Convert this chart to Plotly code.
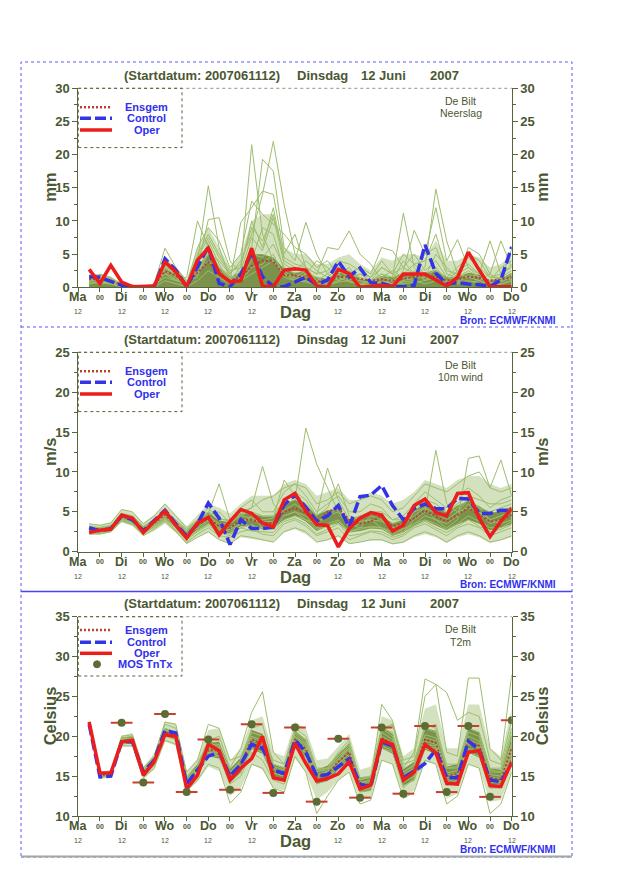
import plotly.graph_objects as go

# EPS pluim De Bilt, start 2007061112 -- 6-hourly steps after "Ma 12"
steps = list(range(6, 241, 6))
tick_hours = list(range(0, 241, 12))
day_names = ['Ma', 'Di', 'Wo', 'Do', 'Vr', 'Za', 'Zo', 'Ma', 'Di', 'Wo', 'Do']

# ---- neerslag (mm) ----
prec_oper = [2.7, 0.6, 3.3, 0.8, 0.1, 0.1, 0.2, 3.8, 2.3, 0.1, 4.1, 5.9, 2.1, 0.8, 1.0, 5.9, 0.2, 0.1, 2.6, 2.8,
             2.6, 0.2, 0.0, 2.7, 2.1, 0.0, 0.2, 0.3, 0.1, 2.0, 2.0, 2.0, 1.1, 0.2, 1.5, 5.3, 2.6, 0.1, 0.1, 0.1]
prec_ctrl = [1.6, 1.5, 0.9, 0.3, 0.0, 0.0, 0.1, 4.3, 2.6, 0.1, 3.1, 6.1, 0.6, 0.1, 2.0, 5.2, 1.6, 0.1, 0.1, 0.8,
             1.5, 0.4, 1.1, 3.9, 1.6, 2.9, 0.7, 0.6, 0.1, 0.1, 0.3, 6.4, 2.1, 0.5, 0.7, 0.5, 0.4, 0.1, 1.1, 6.1]
prec_mean = [1.2, 1.2, 1.0, 0.4, 0.1, 0.1, 0.3, 2.4, 1.8, 0.4, 2.2, 3.8, 2.0, 1.0, 1.5, 3.2, 4.0, 3.9, 1.8, 1.8,
             1.4, 0.8, 1.0, 1.6, 1.5, 1.2, 1.0, 1.2, 1.0, 1.3, 1.5, 1.8, 1.6, 1.0, 1.2, 1.6, 1.4, 1.0, 1.2, 1.5]
prec_core_hi = [1.4, 1.5, 1.1, 0.5, 0.2, 0.1, 0.3, 2.8, 2.0, 0.5, 3.0, 5.0, 3.0, 1.5, 2.4, 5.0, 5.0, 4.5, 2.8, 2.2,
                2.4, 1.5, 1.3, 2.2, 2.2, 1.3, 1.0, 1.7, 1.5, 2.1, 2.1, 2.2, 2.6, 1.5, 1.5, 2.2, 1.9, 1.0, 1.3, 2.2]
prec_spread_hi = [2.0, 2.0, 1.6, 0.7, 0.3, 0.2, 0.5, 4.5, 3.0, 1.2, 6.0, 9.0, 6.0, 3.0, 5.0, 10.0, 11.0, 11.0, 6.0, 5.0,
                  5.0, 3.5, 3.5, 4.5, 5.0, 3.5, 2.5, 4.5, 4.0, 5.0, 5.0, 4.5, 7.0, 4.0, 4.0, 5.0, 4.5, 3.0, 3.5, 5.0]
prec_members = [
    [1.5, 1.8, 1.2, 0.4, 0, 0, 0.2, 3.2, 2.0, 0.5, 4.0, 15.3, 6.0, 1.2, 3.0, 21.5, 8.0, 4.0, 2.0, 1.5,
     2.5, 1.0, 0.5, 2.0, 3.0, 1.0, 0.5, 1.5, 1.0, 2.0, 3.5, 2.0, 1.0, 0.5, 2.0, 3.0, 1.5, 0.5, 1.0, 2.0],
    [1.0, 1.2, 0.8, 0.2, 0.1, 0, 0.3, 2.5, 1.5, 0.3, 2.0, 5.0, 4.0, 2.0, 4.0, 8.0, 14.0, 22.0, 12.4, 5.0,
     3.0, 1.0, 2.0, 3.5, 2.0, 0.5, 1.0, 2.0, 1.5, 11.2, 3.0, 1.0, 2.0, 1.0, 0.5, 2.0, 1.0, 0.5, 0.8, 1.5],
    [2.3, 1.5, 1.0, 0.5, 0.2, 0.1, 0.5, 5.9, 3.0, 0.8, 3.0, 10.2, 10.5, 4.0, 2.0, 6.0, 19.3, 17.5, 6.0, 4.0,
     9.8, 5.0, 2.0, 1.0, 1.5, 2.0, 1.0, 3.0, 2.0, 1.0, 1.5, 3.0, 14.8, 7.0, 2.0, 1.5, 1.0, 2.0, 7.0, 3.0],
    [0.8, 2.0, 1.5, 0.3, 0, 0, 0.1, 2.0, 1.0, 1.5, 10.0, 6.0, 3.0, 1.0, 9.8, 12.0, 14.5, 14.0, 5.0, 8.0,
     3.0, 2.0, 6.0, 5.7, 8.5, 5.0, 3.5, 1.0, 0.5, 2.5, 8.6, 5.0, 12.0, 4.0, 7.2, 3.0, 2.0, 7.0, 2.0, 1.0],
    [1.2, 1.0, 0.5, 0.2, 0.1, 0, 0.2, 3.5, 2.5, 0.2, 5.0, 8.0, 5.0, 2.5, 3.0, 10.0, 6.0, 12.0, 4.0, 3.0,
     2.0, 4.0, 3.0, 1.0, 2.0, 3.0, 2.0, 6.0, 5.5, 3.0, 2.0, 5.0, 6.0, 2.0, 1.5, 6.0, 5.0, 2.0, 1.0, 5.8],
    [1.5, 1.3, 1.0, 0.6, 0.3, 0.1, 0.3, 1.5, 1.0, 0.6, 2.5, 4.0, 2.0, 1.5, 2.0, 5.0, 4.5, 6.5, 3.0, 2.0,
     1.5, 0.8, 1.0, 2.5, 1.5, 1.0, 0.8, 1.5, 2.5, 1.5, 1.0, 2.0, 2.5, 1.5, 1.0, 1.5, 2.0, 1.0, 1.5, 2.5],
    [0.8, 0.6, 0.5, 0.1, 0, 0, 0.1, 2.8, 3.0, 1.0, 1.5, 7.0, 3.5, 0.8, 1.5, 4.0, 9.0, 8.0, 2.5, 1.2,
     2.0, 1.5, 0.5, 1.0, 2.0, 0.5, 0.3, 1.0, 0.5, 1.0, 2.5, 1.0, 3.0, 1.0, 2.5, 3.5, 2.0, 0.8, 0.5, 1.0],
    [1.8, 1.6, 1.3, 0.2, 0.1, 0.1, 0.4, 4.5, 2.0, 0.3, 3.5, 6.5, 2.5, 1.0, 2.5, 7.5, 5.5, 10.5, 3.5, 2.5,
     4.0, 2.5, 1.5, 3.0, 2.5, 1.5, 1.0, 2.0, 1.0, 4.0, 2.0, 1.5, 5.0, 3.0, 1.5, 2.5, 1.5, 1.0, 3.0, 4.0],
    [0.5, 0.8, 0.6, 0.0, 0, 0, 0, 1.0, 0.5, 0.1, 1.0, 2.5, 1.5, 0.5, 1.0, 3.0, 3.5, 5.0, 1.5, 1.0,
     0.8, 0.4, 0.3, 0.8, 1.0, 0.3, 0.2, 0.5, 0.3, 0.8, 1.0, 0.5, 1.0, 0.5, 0.8, 1.0, 0.6, 0.3, 0.5, 1.0],
    [1.3, 1.5, 1.2, 0.4, 0.1, 0, 0.2, 3.0, 1.8, 0.4, 6.0, 9.0, 7.0, 3.0, 5.0, 13.0, 11.0, 9.5, 8.0, 6.0,
     5.0, 3.0, 4.0, 2.0, 1.0, 2.0, 1.5, 4.0, 2.0, 3.0, 5.0, 2.5, 4.0, 1.5, 3.0, 4.5, 3.0, 1.5, 2.0, 3.0],
    [1.0, 1.0, 0.9, 0.3, 0, 0, 0.2, 2.2, 1.2, 0.2, 2.0, 5.5, 3.0, 1.8, 1.0, 2.0, 3.0, 4.0, 2.0, 1.0,
     1.0, 0.5, 0.8, 1.5, 0.8, 0.5, 0.5, 0.8, 1.0, 0.5, 0.8, 1.0, 1.5, 0.8, 0.5, 0.8, 1.0, 0.5, 1.0, 1.5],
    [1.6, 1.9, 1.4, 0.5, 0.2, 0.1, 0.3, 4.0, 2.8, 0.5, 4.5, 7.5, 4.5, 2.2, 3.5, 9.0, 7.0, 11.0, 4.5, 3.5,
     3.0, 2.0, 2.5, 4.0, 3.5, 2.5, 1.5, 3.0, 2.0, 5.0, 3.5, 4.0, 8.0, 2.5, 2.0, 5.0, 4.0, 1.5, 1.5, 3.5],
]

# ---- 10m wind (m/s) ----
wind_oper = [2.4, 2.7, 2.8, 4.6, 4.2, 2.4, 3.8, 5.1, 3.3, 1.7, 3.6, 4.3, 2.1, 3.8, 5.3, 4.8, 3.6, 3.1, 6.5, 7.3,
             5.1, 3.4, 3.3, 0.6, 2.9, 4.2, 4.9, 4.6, 2.6, 3.3, 5.8, 6.6, 4.9, 4.5, 7.3, 7.4, 4.2, 1.9, 3.8, 5.4]
wind_ctrl = [3.0, 2.6, 2.9, 4.5, 4.0, 2.6, 3.9, 5.2, 3.5, 1.9, 3.5, 6.1, 4.2, 0.9, 4.0, 2.9, 2.9, 3.1, 5.9, 7.1,
             5.6, 3.8, 4.5, 5.8, 3.1, 6.9, 7.1, 8.3, 5.8, 4.0, 5.4, 6.0, 5.4, 5.4, 6.7, 6.6, 4.8, 4.8, 5.2, 5.2]
wind_mean = [2.8, 2.8, 3.0, 4.4, 4.0, 2.8, 3.6, 4.6, 3.4, 2.2, 3.3, 4.2, 3.2, 3.0, 4.0, 4.0, 3.6, 3.6, 5.0, 5.5,
             4.8, 3.6, 5.0, 5.5, 4.0, 3.5, 3.8, 4.5, 3.2, 3.6, 4.2, 5.2, 4.4, 3.8, 4.6, 5.5, 4.6, 3.8, 4.0, 4.6]
wind_core_lo = [2.5, 2.5, 2.7, 4.0, 3.6, 2.4, 3.2, 4.1, 3.0, 1.8, 2.7, 3.5, 2.5, 2.3, 3.2, 3.2, 2.8, 2.8, 4.0, 4.5,
                3.8, 2.6, 3.2, 3.6, 2.4, 2.6, 2.9, 2.8, 2.0, 2.4, 3.3, 3.9, 3.3, 2.7, 3.4, 4.0, 3.5, 2.7, 3.0, 3.5]
wind_core_hi = [3.1, 3.1, 3.3, 4.8, 4.4, 3.2, 4.0, 5.1, 3.8, 2.6, 3.9, 4.9, 3.9, 3.7, 4.8, 4.8, 4.4, 4.4, 6.0, 6.5,
                5.8, 4.6, 5.2, 5.4, 4.0, 4.4, 4.7, 4.4, 3.6, 4.0, 5.1, 6.1, 5.5, 4.9, 5.8, 6.4, 5.7, 4.9, 5.0, 5.7]
wind_spread_lo = [2.2, 2.2, 2.4, 3.7, 3.2, 2.0, 2.6, 3.5, 2.4, 1.0, 1.8, 2.4, 1.5, 1.0, 1.8, 1.6, 1.4, 1.2, 2.4, 2.8,
                  2.2, 1.2, 1.4, 1.8, 1.0, 1.2, 1.4, 1.4, 0.9, 1.1, 1.8, 2.2, 1.8, 1.1, 1.8, 2.2, 1.8, 1.1, 1.4, 1.8]
wind_spread_hi = [3.5, 3.4, 3.7, 5.3, 5.0, 3.6, 4.6, 6.0, 4.6, 3.2, 4.6, 6.0, 5.5, 4.8, 6.0, 7.0, 7.0, 7.0, 8.5, 9.0,
                  8.5, 7.0, 7.5, 8.0, 6.5, 6.5, 7.5, 7.0, 6.0, 6.5, 7.5, 9.0, 8.5, 8.0, 9.0, 9.5, 9.5, 8.5, 8.0, 8.5]
wind_members = [
    [2.5, 2.4, 2.8, 4.2, 3.8, 2.2, 3.2, 4.8, 3.0, 1.5, 2.8, 3.8, 2.5, 2.8, 3.5, 4.5, 3.0, 3.5, 6.0, 6.5,
     15.5, 11.0, 8.0, 5.0, 3.0, 3.5, 4.0, 3.0, 2.5, 3.0, 5.0, 5.5, 4.0, 3.5, 4.5, 6.0, 5.0, 3.5, 4.0, 5.0],
    [3.2, 3.0, 3.3, 4.8, 4.5, 3.2, 4.0, 5.3, 4.0, 2.8, 3.8, 4.8, 8.5, 4.0, 5.0, 5.5, 10.7, 6.0, 4.5, 5.0,
     4.0, 3.5, 4.5, 5.5, 3.5, 3.0, 4.5, 4.0, 3.0, 2.5, 4.0, 5.0, 12.7, 6.0, 5.0, 6.5, 5.5, 4.0, 3.5, 4.0],
    [2.4, 2.6, 2.7, 4.0, 3.6, 2.5, 3.4, 4.2, 3.2, 2.0, 3.0, 4.0, 3.0, 2.5, 3.5, 3.2, 3.0, 2.8, 4.5, 5.0,
     4.5, 3.0, 3.5, 4.0, 2.5, 2.8, 3.2, 3.0, 2.2, 2.8, 3.5, 4.5, 4.0, 3.0, 4.0, 11.7, 12.0, 8.0, 11.5, 7.0],
    [3.5, 3.3, 3.6, 5.3, 5.0, 3.5, 4.5, 6.0, 4.5, 3.0, 4.0, 5.5, 4.0, 4.0, 5.5, 6.5, 5.0, 5.0, 7.5, 8.5,
     7.0, 5.0, 6.0, 7.0, 5.0, 5.0, 6.0, 5.5, 4.0, 4.5, 6.0, 7.5, 6.5, 5.5, 7.0, 8.0, 7.0, 5.5, 6.5, 7.0],
    [2.2, 2.2, 2.5, 3.8, 3.4, 2.0, 2.8, 3.8, 2.5, 1.2, 2.2, 3.0, 2.0, 1.8, 2.5, 2.8, 2.2, 2.0, 3.5, 4.0,
     3.2, 2.0, 2.5, 3.0, 1.5, 2.0, 2.5, 2.2, 1.5, 2.0, 3.0, 3.5, 2.8, 2.0, 3.0, 3.5, 3.0, 2.0, 2.5, 3.0],
    [3.0, 2.9, 3.2, 4.5, 4.2, 3.0, 3.8, 5.0, 3.8, 2.5, 3.5, 4.5, 3.5, 3.5, 4.5, 4.2, 4.0, 4.2, 9.0, 7.0,
     6.0, 4.5, 10.5, 6.5, 4.0, 4.5, 5.0, 4.5, 3.5, 4.0, 5.0, 6.5, 5.0, 4.5, 5.5, 6.5, 5.5, 5.0, 5.5, 6.0],
    [2.7, 2.7, 2.9, 4.3, 3.9, 2.7, 3.5, 4.5, 3.3, 2.3, 3.3, 4.3, 3.3, 3.0, 4.0, 4.0, 3.8, 3.8, 5.2, 6.0,
     5.0, 3.8, 4.5, 5.0, 3.5, 3.8, 4.0, 3.8, 3.0, 3.5, 4.5, 5.5, 4.8, 4.0, 5.0, 5.5, 5.0, 4.0, 4.5, 5.0],
    [2.6, 2.5, 2.8, 4.1, 3.7, 2.6, 3.3, 4.4, 3.2, 1.8, 2.6, 3.5, 2.8, 2.2, 3.0, 3.4, 2.8, 3.0, 4.0, 4.5,
     4.0, 2.8, 3.2, 3.8, 2.5, 3.0, 3.0, 3.0, 2.0, 2.5, 3.5, 4.0, 3.5, 2.8, 3.5, 4.5, 3.8, 3.0, 3.0, 3.8],
    [2.9, 2.8, 3.1, 4.6, 4.1, 2.9, 3.7, 4.7, 3.6, 2.5, 3.7, 4.6, 5.0, 3.6, 4.6, 5.0, 4.5, 4.5, 6.5, 7.5,
     6.5, 4.5, 5.5, 8.5, 4.5, 4.0, 5.0, 5.0, 4.0, 4.0, 5.5, 6.5, 6.0, 5.0, 6.0, 7.0, 6.5, 6.0, 6.0, 6.5],
    [2.5, 2.4, 2.6, 3.9, 3.5, 2.4, 3.1, 4.0, 2.8, 1.5, 2.5, 3.3, 2.4, 2.0, 3.0, 2.6, 2.5, 2.4, 3.8, 4.2,
     3.5, 2.2, 2.8, 3.5, 2.0, 2.2, 2.6, 2.5, 1.8, 2.2, 3.2, 3.8, 3.0, 2.4, 3.2, 4.0, 3.2, 2.5, 2.8, 3.4],
    [3.1, 3.0, 3.2, 4.6, 4.3, 3.1, 3.9, 5.2, 3.9, 2.7, 3.9, 5.0, 4.2, 3.8, 4.8, 5.5, 6.5, 7.0, 8.0, 8.5,
     8.0, 6.0, 6.5, 7.5, 6.0, 6.5, 7.0, 6.5, 5.0, 5.5, 7.0, 8.5, 8.0, 7.5, 8.5, 9.5, 10.0, 8.0, 7.5, 8.0],
    [2.3, 2.3, 2.6, 3.9, 3.4, 2.3, 3.0, 3.9, 2.6, 1.0, 1.8, 2.5, 1.5, 1.0, 2.0, 1.8, 1.5, 1.2, 2.5, 3.0,
     2.5, 1.2, 1.5, 2.0, 1.0, 1.2, 1.5, 1.5, 1.0, 1.2, 2.0, 2.5, 2.0, 1.2, 2.0, 2.5, 2.0, 1.2, 1.5, 2.0],
]

# ---- T2m (Celsius) ----
temp_oper = [21.8, 15.4, 15.4, 19.3, 19.5, 15.1, 16.8, 20.2, 20.0, 13.4, 15.1, 19.0, 18.2, 14.5, 16.0, 17.2, 20.0, 14.8, 14.5, 19.1,
             16.6, 14.4, 14.7, 15.3, 16.8, 13.4, 13.9, 19.5, 19.0, 14.5, 15.5, 19.0, 17.9, 14.1, 14.0, 18.0, 18.2, 13.8, 13.7, 16.8]
temp_ctrl = [21.5, 14.9, 15.0, 19.3, 19.3, 15.5, 17.0, 20.7, 20.4, 14.0, 15.8, 17.5, 18.0, 15.0, 16.5, 19.0, 18.5, 15.8, 15.3, 19.5,
             18.0, 15.0, 15.2, 16.2, 17.2, 14.0, 13.7, 19.3, 18.8, 14.8, 15.6, 16.6, 18.3, 14.8, 14.8, 19.4, 18.3, 14.5, 14.3, 16.6]
temp_mean = [21.6, 15.1, 15.3, 19.4, 19.5, 15.4, 16.8, 20.5, 20.1, 14.2, 15.8, 18.3, 18.2, 15.0, 16.4, 19.6, 19.0, 15.6, 15.2, 19.6,
             18.4, 14.9, 15.3, 16.8, 18.0, 13.9, 14.0, 19.8, 19.0, 14.8, 15.6, 19.6, 19.2, 15.0, 15.3, 19.4, 18.8, 14.8, 14.6, 18.5]
temp_core_lo = [21.4, 14.9, 15.0, 19.0, 19.1, 15.0, 16.3, 20.0, 19.6, 13.7, 15.2, 17.5, 17.2, 14.2, 15.4, 18.4, 17.8, 14.8, 14.4, 18.6,
                17.3, 14.0, 14.4, 15.8, 17.0, 13.0, 13.2, 18.5, 17.8, 13.8, 14.5, 18.3, 17.8, 13.8, 14.2, 18.0, 17.3, 13.6, 13.5, 17.0]
temp_core_hi = [21.8, 15.3, 15.6, 19.8, 20.0, 15.8, 17.3, 21.0, 20.6, 14.8, 16.5, 19.2, 19.3, 15.9, 17.3, 20.8, 20.3, 16.5, 16.1, 20.7,
                19.6, 15.8, 16.3, 17.8, 19.2, 14.8, 15.0, 21.2, 20.3, 15.9, 16.8, 21.0, 20.7, 16.2, 16.5, 21.0, 20.5, 16.0, 15.8, 20.2]
temp_spread_lo = [21.3, 14.7, 14.8, 18.7, 18.7, 14.6, 15.8, 19.3, 18.8, 13.0, 14.3, 16.2, 15.6, 12.5, 13.5, 16.5, 15.8, 13.5, 13.2, 17.2,
                  15.5, 12.0, 13.0, 14.5, 15.5, 12.0, 12.3, 17.0, 16.5, 12.5, 13.2, 16.8, 16.5, 12.2, 12.8, 16.5, 16.0, 11.8, 12.0, 15.5]
temp_spread_hi = [21.9, 15.5, 15.8, 20.1, 20.4, 16.2, 17.8, 21.8, 21.6, 15.6, 17.2, 20.8, 21.0, 17.0, 18.5, 22.0, 22.5, 18.0, 17.5, 21.8,
                  21.0, 17.0, 17.2, 18.8, 20.3, 15.8, 16.2, 22.5, 22.0, 17.5, 18.5, 23.5, 24.0, 18.5, 18.5, 24.0, 24.0, 18.5, 17.5, 23.5]
temp_members = [
    [21.7, 15.3, 15.5, 19.8, 20.0, 15.8, 17.5, 21.5, 21.0, 15.0, 16.5, 19.5, 20.0, 16.0, 18.5, 23.0, 25.6, 18.0, 16.5, 21.0,
     20.0, 16.0, 16.0, 18.0, 19.5, 14.5, 15.0, 21.0, 20.5, 15.5, 16.5, 21.5, 21.0, 16.5, 16.5, 21.0, 20.5, 16.0, 16.0, 21.0],
    [21.5, 15.0, 15.2, 19.2, 19.3, 15.2, 16.6, 20.3, 20.0, 14.0, 15.5, 18.0, 18.0, 14.8, 16.2, 19.5, 19.0, 15.5, 15.0, 19.5,
     18.5, 15.0, 15.5, 17.0, 18.5, 14.5, 15.0, 21.0, 21.5, 16.0, 18.0, 27.2, 26.5, 25.5, 22.0, 23.0, 22.5, 17.0, 16.5, 22.0],
    [21.5, 14.8, 15.0, 18.8, 18.8, 14.8, 16.0, 19.5, 19.0, 13.2, 14.5, 16.5, 16.0, 11.6, 13.0, 16.5, 16.0, 13.5, 13.0, 17.5,
     15.5, 10.3, 12.5, 14.5, 15.5, 11.5, 12.0, 17.0, 16.5, 12.2, 13.0, 17.0, 16.5, 11.5, 12.5, 16.5, 16.0, 10.3, 11.5, 15.5],
    [21.6, 15.2, 15.4, 19.6, 19.8, 15.6, 17.2, 21.0, 20.5, 14.5, 16.2, 19.0, 19.0, 15.5, 17.0, 21.0, 21.5, 16.5, 16.0, 20.5,
     19.5, 15.8, 16.0, 17.8, 19.0, 14.2, 14.5, 24.0, 22.0, 16.5, 17.0, 21.0, 20.5, 16.0, 16.0, 20.5, 20.0, 15.5, 15.5, 20.0],
    [21.6, 15.0, 15.2, 19.0, 19.2, 15.0, 16.4, 20.0, 19.6, 13.8, 15.2, 17.5, 17.5, 14.2, 15.5, 18.5, 18.0, 15.0, 14.5, 18.8,
     17.5, 14.2, 14.8, 16.0, 17.0, 13.2, 13.5, 18.5, 18.0, 13.8, 14.5, 18.5, 18.0, 14.0, 14.5, 18.0, 17.5, 13.5, 13.5, 17.0],
    [21.7, 15.4, 15.6, 20.0, 20.2, 16.0, 17.5, 21.8, 21.5, 15.5, 17.0, 21.5, 21.0, 17.0, 17.5, 20.5, 20.0, 17.0, 16.5, 20.0,
     19.0, 15.5, 16.0, 17.5, 18.5, 14.8, 15.0, 20.5, 21.5, 17.0, 17.5, 25.0, 26.5, 18.0, 17.5, 27.3, 27.3, 18.5, 17.0, 27.7],
    [21.5, 15.1, 15.3, 19.4, 19.5, 15.3, 16.9, 20.6, 20.2, 14.3, 15.9, 18.4, 18.3, 15.1, 16.5, 19.8, 19.2, 15.7, 15.3, 19.8,
     18.6, 15.0, 15.4, 16.9, 18.2, 14.0, 14.1, 20.0, 19.2, 14.9, 15.7, 19.8, 19.4, 15.1, 15.4, 19.6, 19.0, 14.9, 14.7, 18.8],
    [21.6, 14.9, 15.1, 19.1, 19.3, 15.1, 16.6, 20.2, 19.8, 13.9, 15.4, 17.8, 17.8, 14.5, 15.8, 18.8, 18.5, 14.8, 14.5, 19.0,
     17.8, 14.0, 14.6, 16.2, 17.5, 13.0, 13.2, 18.8, 18.2, 13.5, 14.8, 18.8, 18.5, 14.2, 14.8, 18.5, 18.0, 13.8, 14.0, 17.5],
    [21.7, 15.2, 15.4, 19.7, 19.7, 15.6, 17.0, 20.8, 20.4, 14.6, 16.2, 18.8, 18.8, 15.5, 17.0, 20.5, 20.0, 16.2, 15.8, 20.3,
     19.2, 15.6, 15.8, 17.5, 18.8, 14.6, 14.8, 21.0, 20.0, 15.5, 16.3, 21.0, 21.5, 16.0, 16.2, 21.0, 20.5, 15.8, 15.5, 20.5],
    [21.5, 15.0, 15.2, 19.3, 19.4, 15.2, 16.7, 20.4, 19.9, 14.0, 15.6, 18.0, 17.5, 14.0, 15.0, 18.0, 17.0, 14.5, 14.0, 19.0,
     18.0, 14.5, 14.8, 16.5, 17.8, 13.5, 13.8, 19.5, 18.8, 14.2, 15.0, 19.0, 18.8, 14.5, 14.8, 19.0, 18.5, 14.2, 14.2, 18.0],
    [21.6, 15.1, 15.3, 19.5, 19.6, 15.5, 17.0, 20.7, 20.3, 14.4, 16.0, 18.6, 18.6, 15.3, 16.8, 20.0, 19.5, 16.0, 15.5, 20.0,
     18.8, 15.2, 15.6, 17.2, 18.5, 14.2, 14.3, 20.5, 19.6, 15.2, 16.0, 20.2, 19.8, 15.4, 15.7, 20.0, 19.4, 15.2, 15.0, 19.2],
    [21.6, 15.2, 15.4, 19.4, 19.6, 15.4, 16.8, 20.5, 20.1, 14.2, 15.8, 18.3, 18.0, 14.8, 16.2, 19.2, 18.8, 15.4, 15.0, 19.4,
     18.2, 14.8, 15.2, 16.6, 17.8, 13.8, 13.9, 19.6, 18.8, 14.6, 15.4, 19.4, 19.0, 14.8, 15.2, 19.2, 18.6, 14.6, 14.4, 18.4],
]
mos_hours = [24, 36, 48, 60, 72, 84, 96, 108, 120, 132, 144, 156, 168, 180, 192, 204, 216, 228, 240]
mos_tntx = [21.7, 14.2, 22.8, 13.0, 19.6, 13.3, 21.5, 12.9, 21.1, 11.8, 19.7, 12.3, 21.1, 12.8, 21.3, 13.0, 21.3, 12.4, 22.0]

# ---- styling ----
# the page puts the figure 8px in from the top-left corner, so the figure is
# sized to fit the 640x880 window and screen pixels are shifted by that margin
OFF = 8
W, H = 624, 864
X0, X1 = 78.3, 511.7
FONT = 'Liberation Sans, Arial, sans-serif'
OLIVE = '#4b5732'
AXIS = '#56653a'
MEMBER = '#9ebd6f'
SPREAD = 'rgba(158,189,111,0.45)'
CORE = 'rgba(104,128,50,0.82)'
ENS_C = '#b8423a'
CTRL_C = '#3434e6'
OPER_C = '#ee1d1d'
BLUE_T = '#3030ee'


def fx(p):
    return (p - OFF) / W


def fy(p):
    return 1 - (p - OFF) / H


panels = [
    dict(top=88.3, bot=287.3, rng=[0, 30], unit='mm', name='Neerslag', oper=prec_oper, ctrl=prec_ctrl,
         mean=prec_mean, bands=[(None, prec_spread_hi, SPREAD), (None, prec_core_hi, CORE)], members=prec_members),
    dict(top=352.3, bot=551.7, rng=[0, 25], unit='m/s', name='10m wind', oper=wind_oper, ctrl=wind_ctrl,
         mean=wind_mean, bands=[(wind_spread_lo, wind_spread_hi, SPREAD), (wind_core_lo, wind_core_hi, CORE)],
         members=wind_members),
    dict(top=616.7, bot=816.0, rng=[10, 35], unit='Celsius', name='T2m', oper=temp_oper, ctrl=temp_ctrl,
         mean=temp_mean, bands=[(temp_spread_lo, temp_spread_hi, SPREAD), (temp_core_lo, temp_core_hi, CORE)],
         members=temp_members),
]

fig = go.Figure()
shapes = []
annos = []


def txt(x, y, s, size, color=OLIVE, bold=True, xref='paper', angle=0):
    annos.append(dict(x=x, y=y, xref=xref, yref='paper', text=s, showarrow=False, textangle=angle,
                      xanchor='center', yanchor='middle',
                      font=dict(family=FONT, size=size, color=color, weight='bold' if bold else 'normal')))


for k, p in enumerate(panels, start=1):
    xa = 'x' if k == 1 else 'x%d' % k
    ya = 'y' if k == 1 else 'y%d' % k
    yr = 'y%d' % (k + 3)

    # light spread and dense core of the plume
    for lo, hi, col in p['bands']:
        if lo is None:
            fig.add_trace(go.Scatter(x=steps, y=hi, mode='lines', line=dict(width=0), fill='tozeroy',
                                     fillcolor=col, xaxis=xa, yaxis=ya, hoverinfo='skip'))
        else:
            fig.add_trace(go.Scatter(x=steps, y=lo, mode='lines', line=dict(width=0),
                                     xaxis=xa, yaxis=ya, hoverinfo='skip'))
            fig.add_trace(go.Scatter(x=steps, y=hi, mode='lines', line=dict(width=0), fill='tonexty',
                                     fillcolor=col, xaxis=xa, yaxis=ya, hoverinfo='skip'))
    for m in p['members']:
        fig.add_trace(go.Scatter(x=steps, y=m, mode='lines', line=dict(color=MEMBER, width=1),
                                 xaxis=xa, yaxis=ya, hoverinfo='skip'))
    fig.add_trace(go.Scatter(x=steps, y=p['mean'], mode='lines', name='Ensgem',
                             line=dict(color=ENS_C, width=2, dash='2px,2px'), xaxis=xa, yaxis=ya))
    fig.add_trace(go.Scatter(x=steps, y=p['ctrl'], mode='lines', name='Control',
                             line=dict(color=CTRL_C, width=3.5, dash='11px,4px'), xaxis=xa, yaxis=ya))
    fig.add_trace(go.Scatter(x=steps, y=p['oper'], mode='lines', name='Oper',
                             line=dict(color=OPER_C, width=3.5), xaxis=xa, yaxis=ya))
    if k == 3:
        fig.add_trace(go.Scatter(x=mos_hours, y=mos_tntx, mode='markers', name='MOS TnTx',
                                 marker=dict(color='#5d6b34', size=8),
                                 error_x=dict(type='constant', value=6, color='#c8402c', thickness=2, width=0),
                                 xaxis=xa, yaxis=ya))
    # dummy trace so the right-hand axis gets drawn
    fig.add_trace(go.Scatter(x=[steps[0]], y=[None], mode='lines', xaxis=xa, yaxis=yr, hoverinfo='skip'))

    dom = [fy(p['bot']), fy(p['top'])]
    fig.layout['xaxis' if k == 1 else 'xaxis%d' % k] = dict(
        domain=[fx(X0), fx(X1)], range=[0, 240], anchor=ya, tickvals=tick_hours, ticks='outside', ticklen=4,
        tickcolor=AXIS, showticklabels=False, showline=True, linecolor=AXIS, showgrid=False, zeroline=False,
        automargin=False)
    yax = dict(range=p['rng'], dtick=5, ticks='outside', ticklen=5, tickcolor=AXIS, showline=True,
               linecolor=AXIS, showgrid=False, zeroline=False, automargin=False,
               tickfont=dict(family=FONT, size=13, color=OLIVE, weight='bold'),
               minor=dict(dtick=2.5, ticks='outside', ticklen=3, tickcolor=AXIS))
    fig.layout['yaxis' if k == 1 else 'yaxis%d' % k] = dict(domain=dom, anchor=xa, **yax)
    fig.layout['yaxis%d' % (k + 3)] = dict(overlaying=ya, side='right', anchor=xa, **yax)

    top, bot = p['top'], p['bot']
    # dotted upper frame line
    shapes.append(dict(type='line', xref='paper', yref='paper', x0=fx(X0), x1=fx(X1), y0=fy(top), y1=fy(top),
                       line=dict(color='#8d9a7c', width=1, dash='dot')))
    # legend box
    shapes.append(dict(type='rect', xref='paper', yref='paper', x0=fx(X0), x1=fx(182), y0=fy(top + 59.3),
                       y1=fy(top), line=dict(color=AXIS, width=1, dash='dot')))
    rows = [13.3, 25.6, 36.6, 47.6] if k == 3 else [19.0, 30.0, 41.7]
    samples = [('Ensgem', dict(color=ENS_C, width=2.5, dash='2px,2px')),
               ('Control', dict(color=CTRL_C, width=3.5, dash='11px,4px')),
               ('Oper', dict(color=OPER_C, width=3.5))]
    for (lab, ln), dy in zip(samples, rows):
        shapes.append(dict(type='line', xref='paper', yref='paper', x0=fx(80), x1=fx(112),
                           y0=fy(top + dy), y1=fy(top + dy), line=ln))
        txt(fx(146.5), fy(top + dy), lab, 11, color=BLUE_T)
    if k == 3:
        dy = rows[3]
        shapes.append(dict(type='circle', xref='paper', yref='paper', x0=fx(93.5), x1=fx(100.5),
                           y0=fy(top + dy + 3.5), y1=fy(top + dy - 3.5),
                           fillcolor='#5d6b34', line=dict(color='#5d6b34', width=1)))
        txt(fx(145.5), fy(top + dy), 'MOS TnTx', 11, color=BLUE_T)

    # heading
    ty = top - 13
    for s, cx in [('(Startdatum: 2007061112)', 202), ('Dinsdag', 322), ('12 Juni', 383), ('2007', 444)]:
        txt(fx(cx), fy(ty), s, 13)
    txt(fx(460.7), fy(top + 12.4), 'De Bilt', 10.5, bold=False)
    txt(fx(460.7), fy(top + 25.0), p['name'], 10.5, bold=False)

    # axis titles
    txt(fx(50), fy((top + bot) / 2), p['unit'], 16.5, angle=-90)
    txt(fx(542), fy((top + bot) / 2), p['unit'], 16.5, angle=-90)

    # day labels along the time axis ("12" under Za is hidden behind "Dag")
    for h in tick_hours:
        if h % 24 == 0:
            txt(h, fy(bot + 10), day_names[h // 24], 12.5, xref=xa)
            if h != 120:
                txt(h, fy(bot + 24.3), '12', 7, xref=xa, bold=False)
        else:
            txt(h, fy(bot + 10), '00', 7, xref=xa)
    txt(fx(295), fy(bot + 25), 'Dag', 16.5)
    txt(fx(508), fy(bot + 33.2), 'Bron: ECMWF/KNMI', 10, color=BLUE_T)

# outer frame and panel separators
shapes.append(dict(type='rect', xref='paper', yref='paper', x0=fx(21), x1=fx(572), y0=fy(857), y1=fy(62),
                   line=dict(color='#5a5aff', width=1, dash='dot')))
shapes.append(dict(type='line', xref='paper', yref='paper', x0=fx(21), x1=fx(572), y0=fy(327), y1=fy(327),
                   line=dict(color='#5a5aff', width=1, dash='dot')))
shapes.append(dict(type='line', xref='paper', yref='paper', x0=fx(21), x1=fx(572), y0=fy(591.5), y1=fy(591.5),
                   line=dict(color='#4646f0', width=1.5)))
shapes.append(dict(type='line', xref='paper', yref='paper', x0=fx(21), x1=fx(572), y0=fy(856.5), y1=fy(856.5),
                   line=dict(color='#a0a8a0', width=2)))

fig.update_layout(template='none', width=W, height=H, margin=dict(l=0, r=0, t=0, b=0, pad=0),
                  showlegend=False, paper_bgcolor='white', plot_bgcolor='white', shapes=shapes,
                  annotations=annos, font=dict(family=FONT, color=OLIVE))

fig.write_html("out.html")
